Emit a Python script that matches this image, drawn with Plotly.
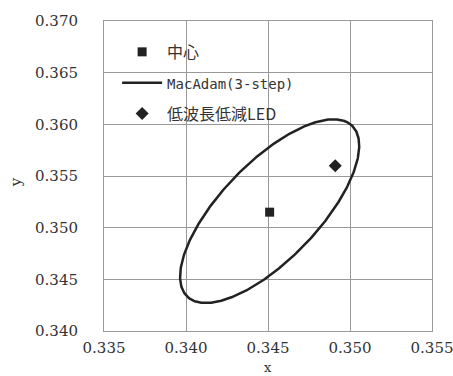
import numpy as np
import plotly.graph_objects as go

# Data
center_x = [0.3451]
center_y = [0.3515]
led_x = [0.3491]
led_y = [0.3560]
# MacAdam 3-step ellipse parameters (center, semi-axes, rotation in degrees)
ell_cx, ell_cy = 0.3451, 0.3516
ell_a, ell_b, ell_theta = 0.00984, 0.00346, 62.7

x_ticks = [0.335, 0.340, 0.345, 0.350, 0.355]
y_ticks = [0.340, 0.345, 0.350, 0.355, 0.360, 0.365, 0.370]

t = np.linspace(0, 2 * np.pi, 361)
th = np.deg2rad(ell_theta)
ex = ell_cx + ell_a * np.cos(t) * np.cos(th) - ell_b * np.sin(t) * np.sin(th)
ey = ell_cy + ell_a * np.cos(t) * np.sin(th) + ell_b * np.sin(t) * np.cos(th)

ink = "#222222"
fig = go.Figure()
fig.add_trace(go.Scatter(x=center_x, y=center_y, mode="markers", name="中心",
                         legendgroup="a",
                         marker=dict(symbol="square", size=9, color=ink)))
fig.add_trace(go.Scatter(x=ex, y=ey, mode="lines",
                         legendgroup="b",
                         name='<span style="font-family:\'DejaVu Sans Mono\';font-size:14px">MacAdam(3-step)</span>',
                         line=dict(color=ink, width=2.5)))
fig.add_trace(go.Scatter(x=led_x, y=led_y, mode="markers", name="低波長低減LED",
                         legendgroup="c",
                         marker=dict(symbol="diamond", size=10, color=ink)))

axis_font = dict(family="DejaVu Serif", size=15, color="#333333")
title_font = dict(family="DejaVu Serif", size=13, color="#333333")
fig.update_layout(
    width=453, height=376,
    margin=dict(l=104, r=21, t=21, b=45, autoexpand=False),
    paper_bgcolor="white", plot_bgcolor="white",
    showlegend=True,
    legend=dict(x=0.04, y=0.955, xanchor="left", yanchor="top",
                bgcolor="rgba(0,0,0,0)", borderwidth=0,
                font=dict(family="Noto Sans CJK JP", size=16, color="#333333"),
                itemwidth=40, tracegroupgap=7),
    xaxis=dict(range=[0.335, 0.355], tickvals=x_ticks, tickformat=".3f",
               showgrid=True, gridcolor="#999999", gridwidth=1,
               showline=True, linecolor="#999999", linewidth=1, mirror=True,
               zeroline=False, ticks="", tickfont=axis_font, automargin=False,
               ticklabeloverflow="allow", ticklabelstandoff=3),
    yaxis=dict(range=[0.340, 0.370], tickvals=y_ticks, tickformat=".3f",
               showgrid=True, gridcolor="#999999", gridwidth=1,
               showline=True, linecolor="#999999", linewidth=1, mirror=True,
               zeroline=False, ticks="", tickfont=axis_font, automargin=False,
               ticklabeloverflow="allow", ticklabelstandoff=22),
    annotations=[
        dict(text="x", xref="paper", yref="paper", x=0.5, y=-0.146,
             xanchor="center", yanchor="bottom", showarrow=False, font=title_font,
             borderpad=0),
        dict(text="y", xref="paper", yref="paper", x=-0.268, y=0.48,
             xanchor="center", yanchor="middle", textangle=-90,
             showarrow=False, font=dict(family="DejaVu Serif", size=15, color="#333333")),
    ],
)

fig.write_html("out.html")
